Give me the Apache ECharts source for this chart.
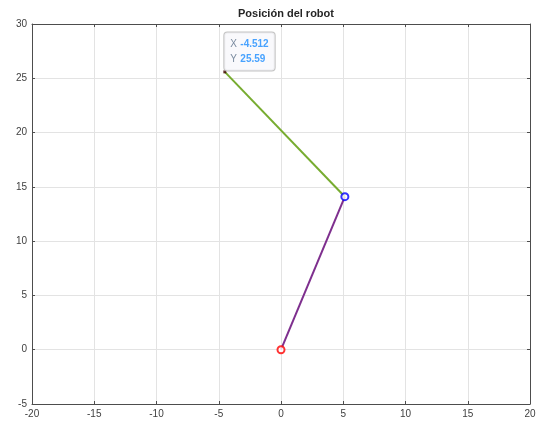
<!DOCTYPE html>
<html>
<head>
<meta charset="utf-8">
<script src="https://cdn.jsdelivr.net/npm/echarts@6/dist/echarts.min.js"></script>
<style>html,body{margin:0;padding:0;background:#fff;}#c{width:539px;height:423px;}</style>
</head>
<body>
<div id="c"></div>
<script>
// Data
var titleText = 'Posición del robot';
var xTicks = [-20, -15, -10, -5, 0, 5, 10, 15, 20];
var yTicks = [-5, 0, 5, 10, 15, 20, 25, 30];
var basePoint = [0, 0];
var elbowPoint = [5.130, 14.095];
var endPoint = [-4.512, 25.59];
var link1 = [basePoint, elbowPoint];
var link2 = [elbowPoint, endPoint];
var tipLabelX = '-4.512';
var tipLabelY = '25.59';

var chart = echarts.init(document.getElementById('c'), null, {renderer: 'canvas'});
var axisColor = '#4d4d4d';
var gridColor = '#e3e3e3';
var labelColor = '#404040';
var font = 'Liberation Sans, Arial, sans-serif';

function mkX(pos, showLabel) {
  return {
    type: 'value', position: pos, min: xTicks[0], max: xTicks[xTicks.length - 1], interval: 5,
    axisLine: {show: true, onZero: false, lineStyle: {color: axisColor, width: 1}},
    axisTick: {show: true, inside: true, length: 3, lineStyle: {color: axisColor}},
    axisLabel: {show: showLabel, color: labelColor, fontSize: 10, fontFamily: font, margin: 5},
    splitLine: {show: showLabel, lineStyle: {color: gridColor, width: 1}}
  };
}
function mkY(pos, showLabel) {
  return {
    type: 'value', position: pos, min: yTicks[0], max: yTicks[yTicks.length - 1], interval: 5,
    axisLine: {show: true, onZero: false, lineStyle: {color: axisColor, width: 1}},
    axisTick: {show: true, inside: true, length: 3, lineStyle: {color: axisColor}},
    axisLabel: {show: showLabel, color: labelColor, fontSize: 10, fontFamily: font, margin: 5},
    splitLine: {show: showLabel, lineStyle: {color: gridColor, width: 1}}
  };
}

chart.setOption({
  backgroundColor: '#ffffff',
  animation: false,
  title: {
    text: titleText, left: 281, top: 3, textAlign: 'center',
    textStyle: {fontSize: 11, fontWeight: 'bold', color: '#262626', fontFamily: font}
  },
  grid: {left: 32, right: 9, top: 24, bottom: 19, containLabel: false},
  xAxis: [mkX('bottom', true), mkX('top', false)],
  yAxis: [mkY('left', true), mkY('right', false)],
  series: [
    {type: 'line', data: link1, symbol: 'none', lineStyle: {color: '#7e2f8e', width: 2}, z: 2},
    {type: 'line', data: link2, symbol: 'none', lineStyle: {color: '#77ac30', width: 2}, z: 2},
    {type: 'scatter', data: [basePoint], symbol: 'circle', symbolSize: 7,
     itemStyle: {color: '#ffffff', borderColor: '#ff0000', borderWidth: 2}, z: 3},
    {type: 'scatter', data: [elbowPoint], symbol: 'circle', symbolSize: 7,
     itemStyle: {color: '#ffffff', borderColor: '#0000ff', borderWidth: 2}, z: 3},
    {type: 'scatter', data: [endPoint], symbol: 'rect', symbolSize: 3,
     itemStyle: {color: '#400000'}, z: 4,
     label: {
       show: true, position: [1, -38],
       backgroundColor: '#f7f7fb', borderColor: '#b4b4b4', borderWidth: 1, borderRadius: 3,
       padding: [5, 6, 4, 6],
       formatter: '{k|X} {v|' + tipLabelX + '}\n{k|Y} {v|' + tipLabelY + '}',
       rich: {
         k: {color: '#5a6f88', fontSize: 10, fontFamily: font, lineHeight: 14.5},
         v: {color: '#1a8cff', fontSize: 10, fontWeight: 'bold', fontFamily: font, lineHeight: 14.5}
       }
     }}
  ]
});
</script>
</body>
</html>
